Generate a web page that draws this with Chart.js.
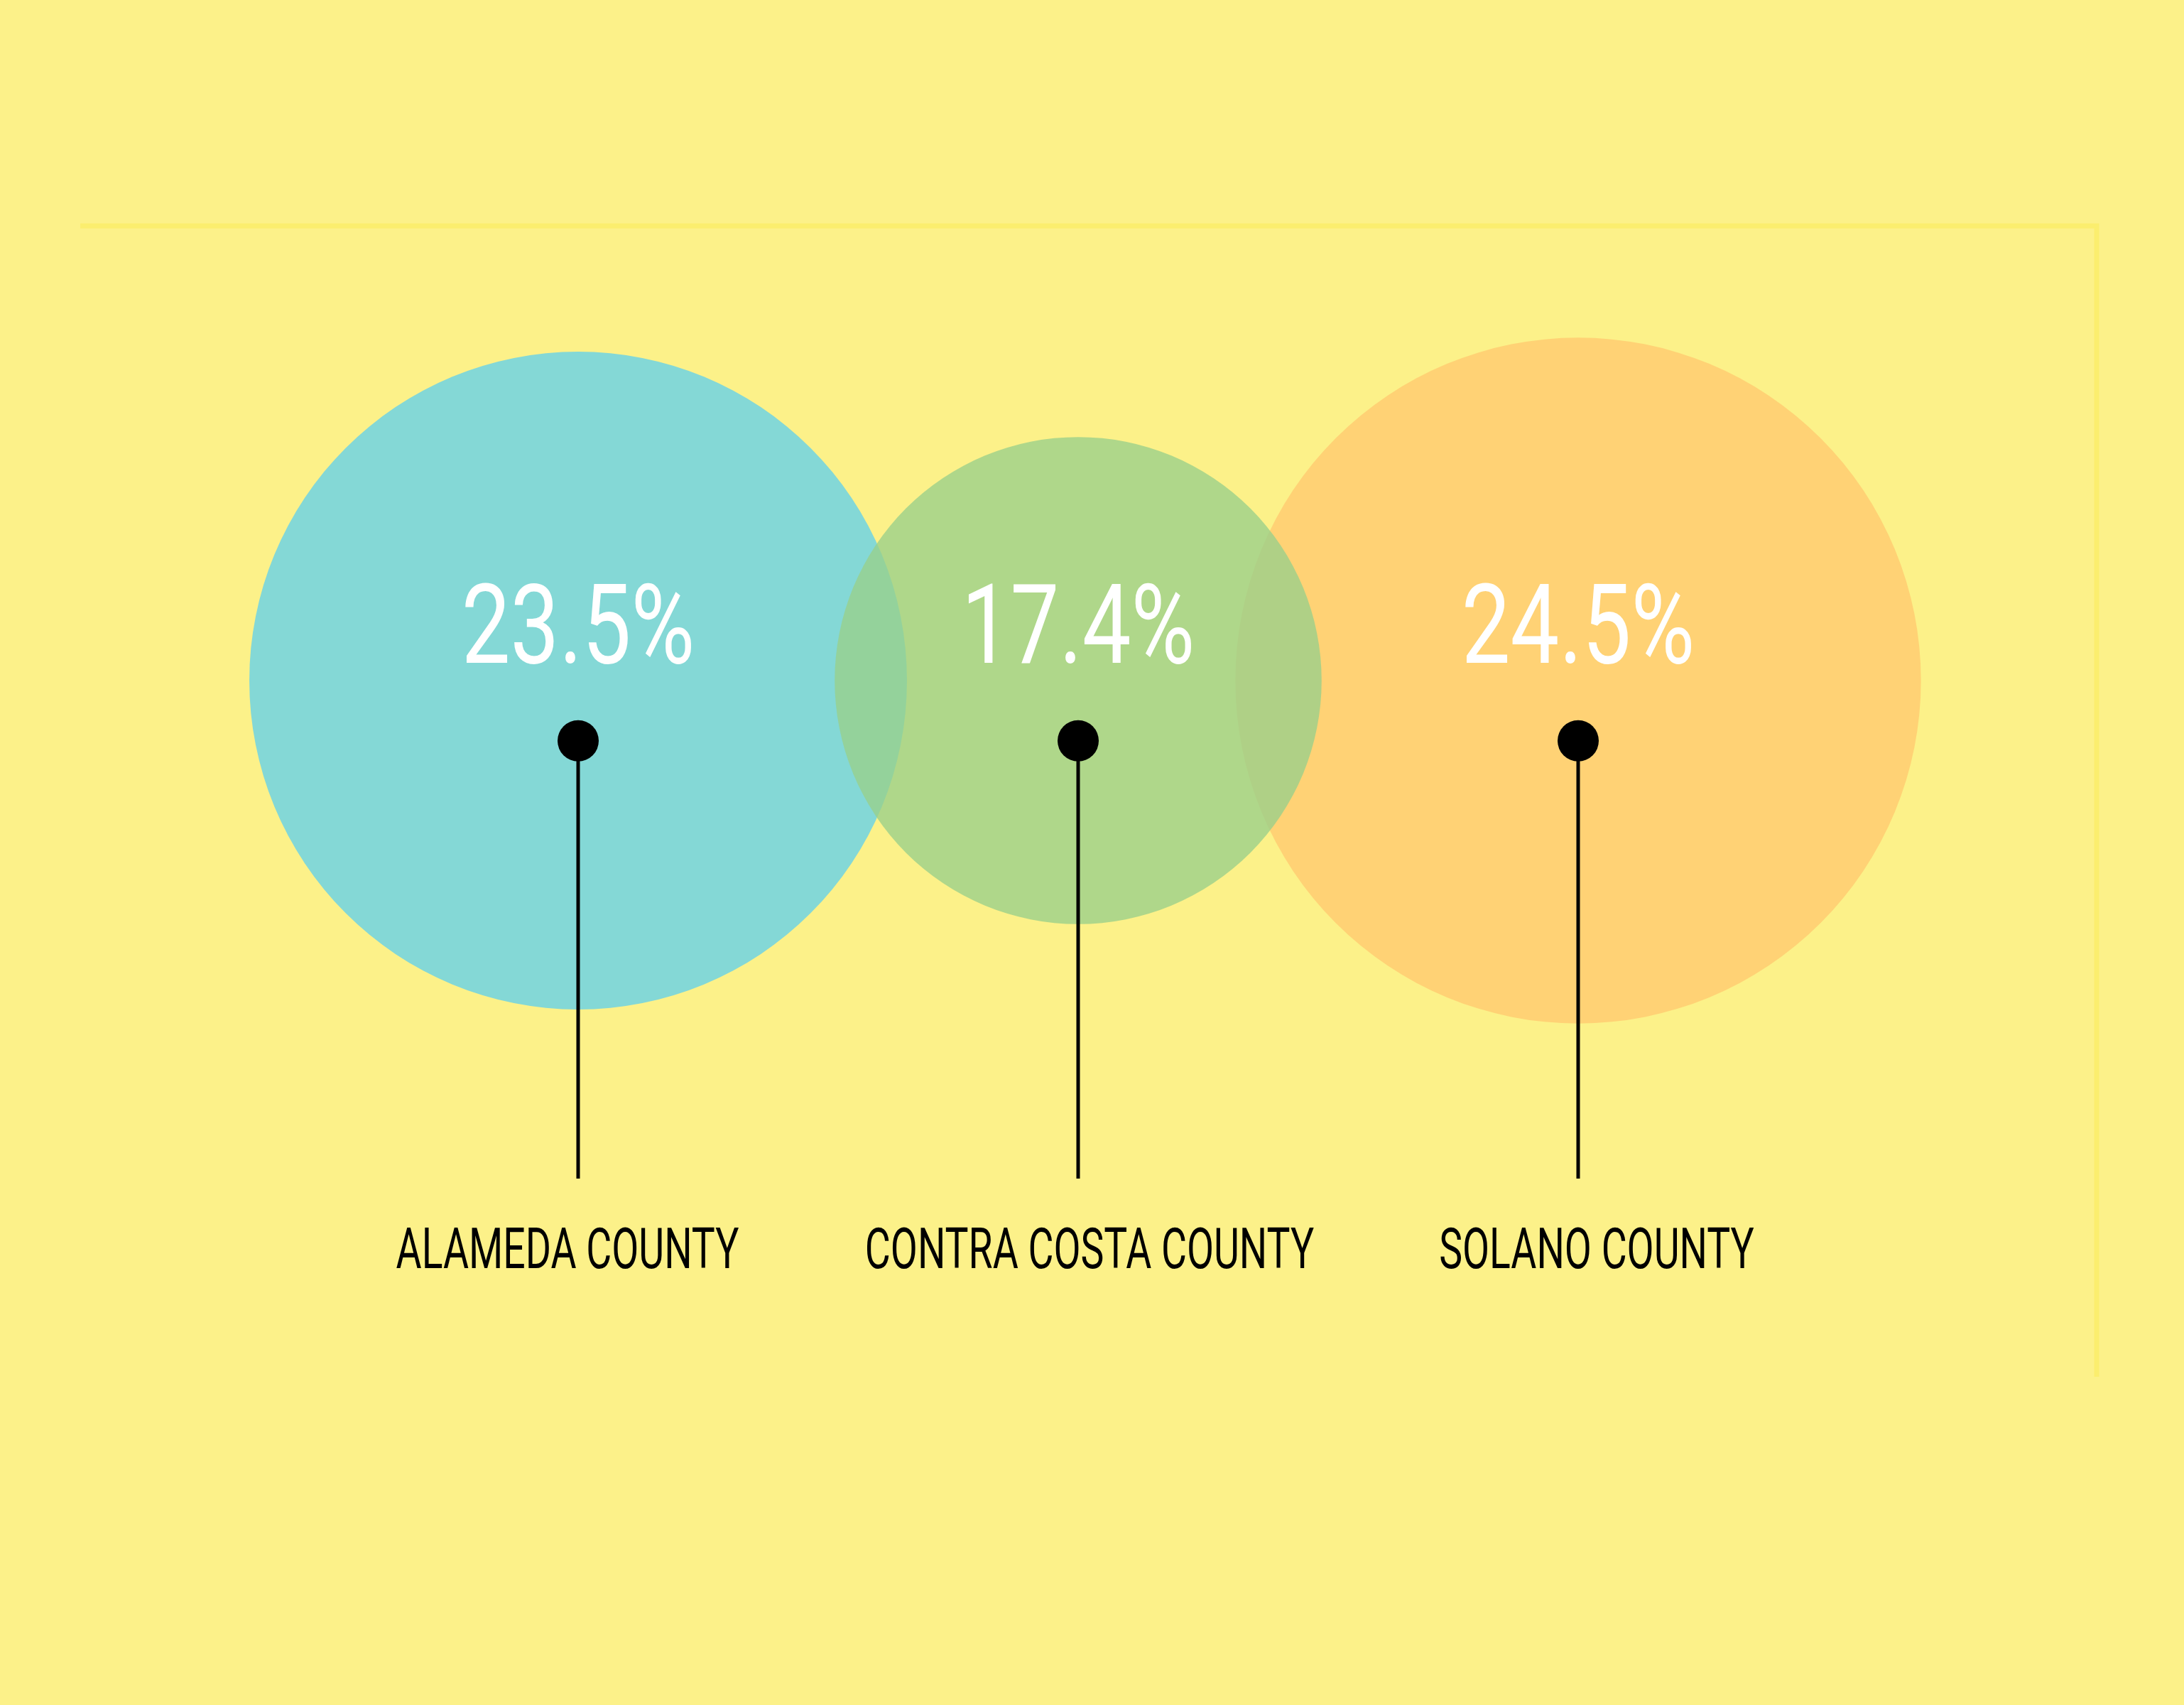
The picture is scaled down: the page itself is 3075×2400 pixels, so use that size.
<!DOCTYPE html>
<html>
<head>
<meta charset="utf-8">
<script src="https://cdn.jsdelivr.net/npm/chart.js@4/dist/chart.umd.min.js"></script>
<style>
  html, body { margin: 0; padding: 0; background: #fcf189; }
  canvas { display: block; }
</style>
</head>
<body>
<canvas id="myChart" width="3075" height="2400"></canvas>
<script>
const counties = ["ALAMEDA COUNTY", "CONTRA COSTA COUNTY", "SOLANO COUNTY"];
const shares = [23.5, 17.4, 24.5];
const fills = ["#84d8d6", "rgba(153, 208, 139, 0.78)", "#ffd275"];
const drawOrder = [1, 0, 2]; // green sits on top of both neighbours
const labelNudge = [-15, 16, 26]; // names are not quite centred under the stems

const pxPerPoint = 19.7; // bubble radius per percentage point
const dotLevel = 0.879;

// faint frame line + stems + texts
const decorations = {
  id: "decorations",
  beforeDraw(chart) {
    const ctx = chart.ctx;
    ctx.save();
    ctx.fillStyle = "#fcf189";
    ctx.fillRect(0, 0, chart.width, chart.height);
    ctx.strokeStyle = "#fbee6e";
    ctx.lineWidth = 7;
    ctx.beginPath();
    ctx.moveTo(113, 318);
    ctx.lineTo(2952, 318);
    ctx.lineTo(2952, 1938);
    ctx.stroke();
    ctx.restore();
  },
  afterDatasetsDraw(chart) {
    const ctx = chart.ctx;
    const x = chart.scales.x;
    const y = chart.scales.y;
    ctx.save();
    counties.forEach((name, i) => {
      const px = x.getPixelForValue(i);
      // stem
      ctx.strokeStyle = "#000";
      ctx.lineWidth = 5;
      ctx.beginPath();
      ctx.moveTo(px, y.getPixelForValue(dotLevel));
      ctx.lineTo(px, y.getPixelForValue(0));
      ctx.stroke();

      // percentage
      ctx.save();
      ctx.translate(px, y.getPixelForValue(1) - 64);
      ctx.scale(0.79, 1);
      ctx.fillStyle = "#ffffff";
      ctx.font = "400 155px Roboto";
      ctx.textAlign = "center";
      ctx.textBaseline = "middle";
      ctx.fillText(shares[i].toFixed(1) + "%", 0, 0);
      ctx.restore();

      // county name
      ctx.save();
      ctx.translate(px + labelNudge[i], y.getPixelForValue(0) + 106);
      ctx.scale(0.7, 1);
      ctx.fillStyle = "#000000";
      ctx.font = "400 79px Roboto";
      ctx.textAlign = "center";
      ctx.textBaseline = "middle";
      ctx.fillText(name, 0, 0);
      ctx.restore();
    });
    ctx.restore();
  },
};

const bubbleSets = counties.map((name, i) => ({
  type: "bubble",
  label: name,
  data: [{ x: i, y: 1, r: shares[i] * pxPerPoint }],
  backgroundColor: fills[i],
  borderWidth: 0,
  order: drawOrder[i] + 1,
  clip: false,
}));

const dotSet = {
  type: "scatter",
  label: "dots",
  data: counties.map((name, i) => ({ x: i, y: dotLevel })),
  backgroundColor: "#000",
  borderWidth: 0,
  pointRadius: 29,
  order: 0,
  clip: false,
};

const config = {
  type: "bubble",
  data: { datasets: [dotSet, ...bubbleSets] },
  options: {
    responsive: false,
    animation: false,
    devicePixelRatio: 1,
    events: [],
    layout: { padding: { left: 814, right: 853, top: 958, bottom: 741 } },
    plugins: { legend: { display: false }, tooltip: { enabled: false } },
    scales: {
      x: { type: "linear", min: 0, max: 2, display: false },
      y: { type: "linear", min: 0, max: 1, display: false },
    },
  },
  plugins: [decorations],
};

const myChart = new Chart(document.getElementById("myChart"), config);
</script>
</body>
</html>
